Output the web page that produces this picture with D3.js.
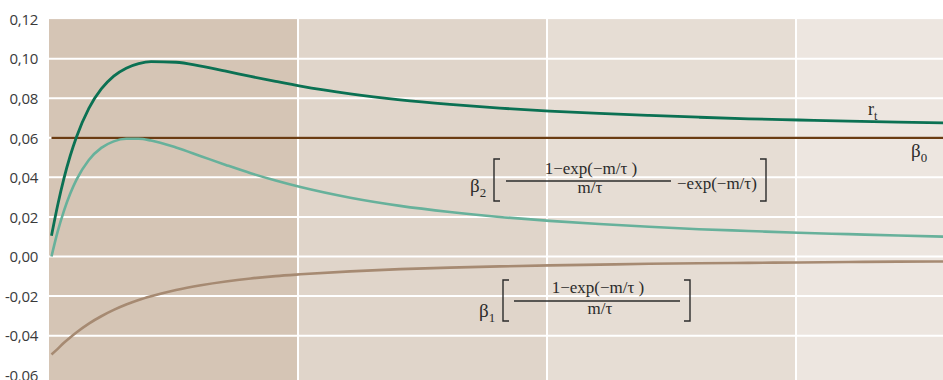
<!DOCTYPE html>
<html><head><meta charset="utf-8">
<script src="https://cdn.jsdelivr.net/npm/d3@7"></script>
<style>body{margin:0;background:#fff;overflow:hidden}</style>
</head><body><svg id="c" width="943" height="380"></svg>
<script>
// ---- data ----
const maturities = [0.1,0.35,0.6,0.85,1.1,1.6,2.1,2.6,3.1,3.6,4.1,5.1,6.1,7.1,8.1,9.1,10.1,12.1,14.1,16.1,18.1,20.1,22.1,24.1,26.1,28.1,30.1,32.1,34.1,36.1];
const rtValues = [0.0105,0.0260,0.0395,0.0508,0.0603,0.0749,0.0847,0.0912,0.0952,0.0975,0.0985,0.0982,0.0962,0.0937,0.0910,0.0885,0.0861,0.0822,0.0792,0.0769,0.0750,0.0735,0.0723,0.0713,0.0704,0.0696,0.0690,0.0684,0.0679,0.0675];
const beta2Values = [0.0000,0.0127,0.0231,0.0317,0.0387,0.0488,0.0549,0.0582,0.0595,0.0595,0.0586,0.0551,0.0507,0.0463,0.0421,0.0384,0.0351,0.0297,0.0256,0.0225,0.0200,0.0180,0.0164,0.0150,0.0138,0.0129,0.0120,0.0113,0.0106,0.0100];
const beta1Values = [-0.0495,-0.0467,-0.0436,-0.0409,-0.0384,-0.0339,-0.0302,-0.0270,-0.0243,-0.0220,-0.0201,-0.0169,-0.0145,-0.0126,-0.0111,-0.0099,-0.0090,-0.0075,-0.0064,-0.0056,-0.0050,-0.0045,-0.0041,-0.0037,-0.0034,-0.0032,-0.0030,-0.0028,-0.0026,-0.0025];
const beta0Value = 0.06;
const beta0Span = [0.1, 36.1];
const yTicks = [-0.06,-0.04,-0.02,0.00,0.02,0.04,0.06,0.08,0.10,0.12];
const bandEdges = [0,10,20,30,36.1];

// ---- layout / style ----
const bandColors = ["#d5c5b5","#e0d5ca","#e6ddd4","#ede6e0"];
const svg = d3.select("#c");
const x = d3.scaleLinear().domain([0,36]).range([49,945.4]);
const y = d3.scaleLinear().domain([-0.06,0.12]).range([375.2,19.1]);

// bands
svg.append("g").selectAll("rect").data(d3.range(bandEdges.length-1)).join("rect")
  .attr("x", i=>x(bandEdges[i])).attr("width", i=>x(bandEdges[i+1])-x(bandEdges[i]))
  .attr("y", y(0.12)).attr("height", 380-y(0.12))
  .attr("fill", i=>bandColors[i]);

// grid
const gridG = svg.append("g").attr("stroke","#fff").attr("stroke-width",2);
gridG.selectAll("line.h").data(yTicks.filter(t=>t>-0.06 && t<0.12)).join("line")
  .attr("x1", x(0)).attr("x2", 943).attr("y1", d=>y(d)).attr("y2", d=>y(d));
gridG.selectAll("line.v").data(bandEdges.slice(1,4)).join("line")
  .attr("x1", d=>x(d)).attr("x2", d=>x(d)).attr("y1", y(0.12)).attr("y2", 380);

// y axis labels
const loc = d3.formatLocale({decimal:",", thousands:".", grouping:[3], currency:["",""], minus:"-"});
const fmt = loc.format(".2f");
const yAxis = d3.axisLeft(y).tickValues(yTicks).tickFormat(fmt).tickSize(0).tickPadding(0);
const ag = svg.append("g").attr("transform","translate(38,0)").call(yAxis);
ag.select(".domain").remove();
ag.selectAll("text").attr("font-family","'Open Sans', sans-serif").attr("font-size",15)
  .attr("fill","#3a3a3a").attr("dy","0.35em").style("letter-spacing","-0.3px");

// lines
const line = d3.line().x(d=>x(d[0])).y(d=>y(d[1])).curve(d3.curveMonotoneX);
svg.append("path").datum(maturities.map((m,i)=>[m,beta1Values[i]]))
  .attr("d", line).attr("fill","none").attr("stroke","#a68a72").attr("stroke-width",2.6);
svg.append("line").attr("x1",x(beta0Span[0])).attr("x2",x(beta0Span[1]))
  .attr("y1",y(beta0Value)).attr("y2",y(beta0Value)).attr("stroke","#6b3c12").attr("stroke-width",2.2);
svg.append("path").datum(maturities.map((m,i)=>[m,beta2Values[i]]))
  .attr("d", line).attr("fill","none").attr("stroke","#67b19b").attr("stroke-width",2.6);
svg.append("path").datum(maturities.map((m,i)=>[m,rtValues[i]]))
  .attr("d", line).attr("fill","none").attr("stroke","#0b7153").attr("stroke-width",2.8);

// labels
const serif = "'Liberation Serif','Times New Roman',serif";
const tc = "#2b2b2b";
function txt(xp, yp, s, size, anchor){
  return svg.append("text").attr("x",xp).attr("y",yp).attr("font-family",serif)
    .attr("font-size",size).attr("fill",tc).attr("text-anchor",anchor||"start").text(s);
}
function sub(xp, yp, base, subs, size){
  const t = svg.append("text").attr("x",xp).attr("y",yp).attr("font-family",serif)
    .attr("font-size",size).attr("fill",tc);
  t.append("tspan").text(base);
  t.append("tspan").attr("font-size",size*0.68).attr("dy",size*0.28).text(subs);
  return t;
}
function bracket(x0, y0, y1, dir){
  svg.append("path").attr("d", `M${x0+dir*6},${y0} H${x0} V${y1} H${x0+dir*6}`)
    .attr("fill","none").attr("stroke",tc).attr("stroke-width",1.4);
}
function hline(x0,x1,yp){
  svg.append("line").attr("x1",x0).attr("x2",x1).attr("y1",yp).attr("y2",yp)
    .attr("stroke",tc).attr("stroke-width",1.6);
}
// r_t and beta_0
sub(868, 115, "r", "t", 18);
sub(911, 157, "β", "0", 19);
// beta2 formula
sub(470, 192, "β", "2", 19);
bracket(494, 159, 201, 1);
txt(591, 174, "1−exp(−m/τ )", 17, "middle");
hline(506, 671, 181);
txt(590, 193, "m/τ", 17, "middle");
txt(677, 189, "−exp(−m/τ)", 17, "start");
bracket(766, 159, 201, -1);
// beta1 formula
sub(479, 317, "β", "1", 19);
bracket(503, 280, 321, 1);
txt(598, 293, "1−exp(−m/τ )", 17, "middle");
hline(514, 680, 301);
txt(600, 314, "m/τ", 17, "middle");
bracket(690, 280, 321, -1);
</script></body></html>
